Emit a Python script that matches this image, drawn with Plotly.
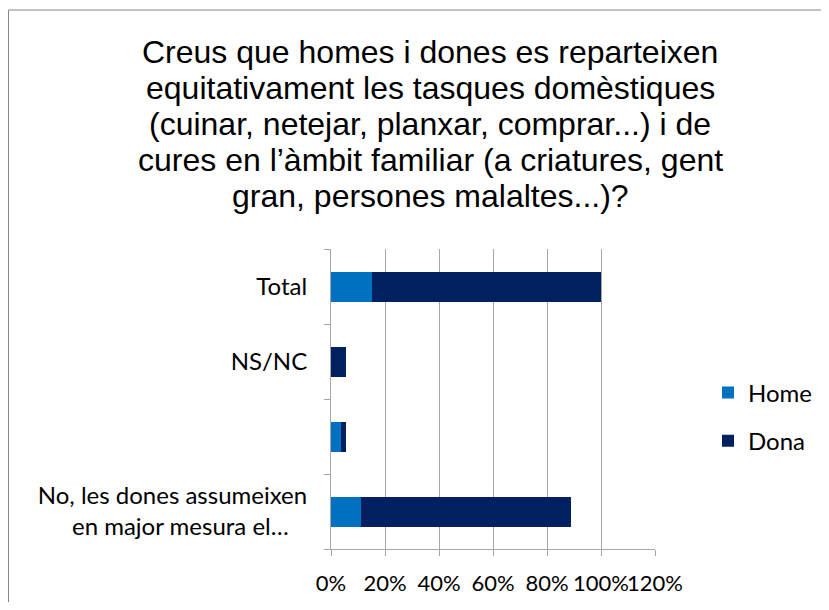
import plotly.graph_objects as go

# categories bottom -> top, as they stand in the chart
categories = ["No, les dones assumeixen en major mesura el…", "(sense etiqueta)", "NS/NC", "Total"]
category_labels = [
    "No, les dones assumeixen<br>en major mesura el…\u00a0\u00a0\u00a0",
    "",
    "NS/NC",
    "Total",
]
home = [11.2, 3.7, 0.0, 15.1]
dona = [77.6, 1.9, 5.6, 84.9]
x_ticks = [0, 20, 40, 60, 80, 100, 120]
x_tick_labels = ["0%", "20%", "40%", "60%", "80%", "100%", "120%"]

title_lines = [
    "Creus que homes i dones es reparteixen",
    "equitativament les tasques domèstiques",
    "(cuinar, netejar, planxar, comprar...) i de",
    "cures en l’àmbit familiar (a criatures, gent",
    "gran, persones malaltes...)?",
]

LABEL_FONT = {"family": "Lato, 'Open Sans', sans-serif", "size": 24, "color": "#000000"}
GRID = "#A6A6A6"

# the page body adds an 8px margin, so the figure is sized to fit inside it
W, H = 813, 594
L, R, T, B = 323, 647, 241, 541  # plot area in figure pixels


def px_x(x):
    return (x - L) / (R - L)


def px_y(y):
    return (B - y) / (B - T)


fig = go.Figure()
fig.add_trace(
    go.Bar(
        y=categories, x=home, orientation="h", name="Home",
        marker={"color": "#0070C0", "line": {"width": 0}},
        legendgroup="home",
    )
)
fig.add_trace(
    go.Bar(
        y=categories, x=dona, orientation="h", name="Dona",
        marker={"color": "#002060", "line": {"width": 0}},
        legendgroup="dona",
    )
)

fig.update_layout(
    width=W,
    height=H,
    barmode="stack",
    bargap=0.6,
    plot_bgcolor="white",
    paper_bgcolor="white",
    margin={"l": L, "r": W - R, "t": T, "b": H - B, "autoexpand": False},
    legend={
        "x": px_x(700),
        "xanchor": "left",
        "y": px_y(409),
        "yanchor": "middle",
        "font": LABEL_FONT,
        "traceorder": "grouped",
        "tracegroupgap": 14,
        "itemwidth": 30,
    },
    showlegend=True,
)

# title, one line per annotation so the line spacing follows the original
for i, line in enumerate(title_lines):
    fig.add_annotation(
        text=line, xref="paper", yref="paper",
        x=px_x(422), y=px_y(44 + 36 * i),
        xanchor="center", yanchor="middle", showarrow=False,
        font={"family": "Liberation Sans, Arial, sans-serif", "size": 32, "color": "#000000"},
    )

fig.update_xaxes(
    range=[0, 120],
    tickvals=x_ticks,
    ticktext=x_tick_labels,
    tickangle=0,
    showgrid=True,
    gridcolor=GRID,
    gridwidth=1,
    showline=True,
    linecolor=GRID,
    ticks="outside",
    ticklen=6,
    tickcolor=GRID,
    ticklabelstandoff=9,
    tickfont={**LABEL_FONT, "size": 22},
    zeroline=False,
    automargin=False,
    fixedrange=True,
)
fig.update_yaxes(
    type="category",
    categoryorder="array",
    categoryarray=categories,
    tickvals=categories,
    ticktext=category_labels,
    range=[-0.5, 3.5],
    showgrid=False,
    showline=True,
    linecolor=GRID,
    ticks="outside",
    tickson="boundaries",
    ticklen=6,
    tickcolor=GRID,
    ticklabelstandoff=18,
    tickfont=LABEL_FONT,
    zeroline=False,
    automargin=False,
    fixedrange=True,
)

# chart frame (top and left edges visible in the window)
fig.add_shape(
    type="rect", xref="paper", yref="paper",
    x0=px_x(0.5), x1=px_x(W + 20),
    y0=px_y(H + 20), y1=px_y(2),
    line={"color": "#868686", "width": 1},
    fillcolor="rgba(0,0,0,0)",
    layer="below",
)

fig.write_html("out.html", config={"displayModeBar": False})
